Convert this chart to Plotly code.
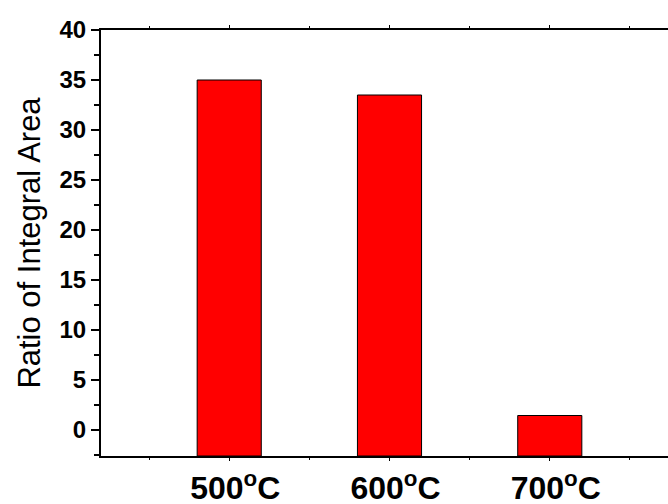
import plotly.graph_objects as go

categories = ["500°C", "600°C", "700°C"]
tick_labels = ["500<sup>o</sup>C", "600<sup>o</sup>C", "700<sup>o</sup>C"]
positions = [1, 2, 3]
values = [35.0, 33.5, 1.45]

Y_MIN, Y_MAX = -2.6, 40
X_MIN, X_MAX = 0.2, 3.8

fig = go.Figure()
fig.add_trace(go.Bar(
    x=positions,
    y=[v - Y_MIN for v in values],
    base=Y_MIN,
    width=0.4,
    marker=dict(color="#FF0000", line=dict(color="black", width=1)),
    customdata=values,
    hovertemplate="%{customdata}<extra></extra>",
))

fig.update_layout(
    width=678, height=504,
    margin=dict(l=101, r=0, t=30, b=48, autoexpand=False),
    paper_bgcolor="white", plot_bgcolor="white",
    showlegend=False,
    font=dict(family="Liberation Sans, Arial, sans-serif", color="black"),
)

fig.update_xaxes(
    range=[X_MIN, X_MAX],
    tickmode="array", tickvals=positions, ticktext=tick_labels,
    tickfont=dict(size=32, family="Liberation Sans, Arial, sans-serif", weight="bold"),
    ticks="outside", ticklen=3, tickwidth=1, tickcolor="black",
    minor=dict(dtick=0.5, tick0=0.5, ticks="outside", ticklen=2, tickcolor="black"),
    showline=True, linecolor="black", linewidth=2, mirror="ticks",
    showgrid=False, zeroline=False, automargin=False,
    ticklabelstandoff=0, ticklabelshift=6,
)

fig.update_yaxes(
    range=[Y_MIN, Y_MAX],
    tickmode="linear", tick0=0, dtick=5,
    tickfont=dict(size=24, family="Liberation Sans, Arial, sans-serif", weight="bold"),
    ticks="outside", ticklen=8, tickwidth=1.5, tickcolor="black",
    minor=dict(dtick=2.5, tick0=0, ticks="outside", ticklen=5, tickcolor="black"),
    showline=True, linecolor="black", linewidth=2,
    showgrid=False, zeroline=False, automargin=False,
    title=dict(text="Ratio of Integral Area", font=dict(size=31, family="Liberation Sans, Arial, sans-serif"), standoff=10),
)

fig.write_html(
    "out.html",
    config={"displayModeBar": False},
    post_script="document.body.style.margin='0';document.body.style.overflow='hidden';",
)
